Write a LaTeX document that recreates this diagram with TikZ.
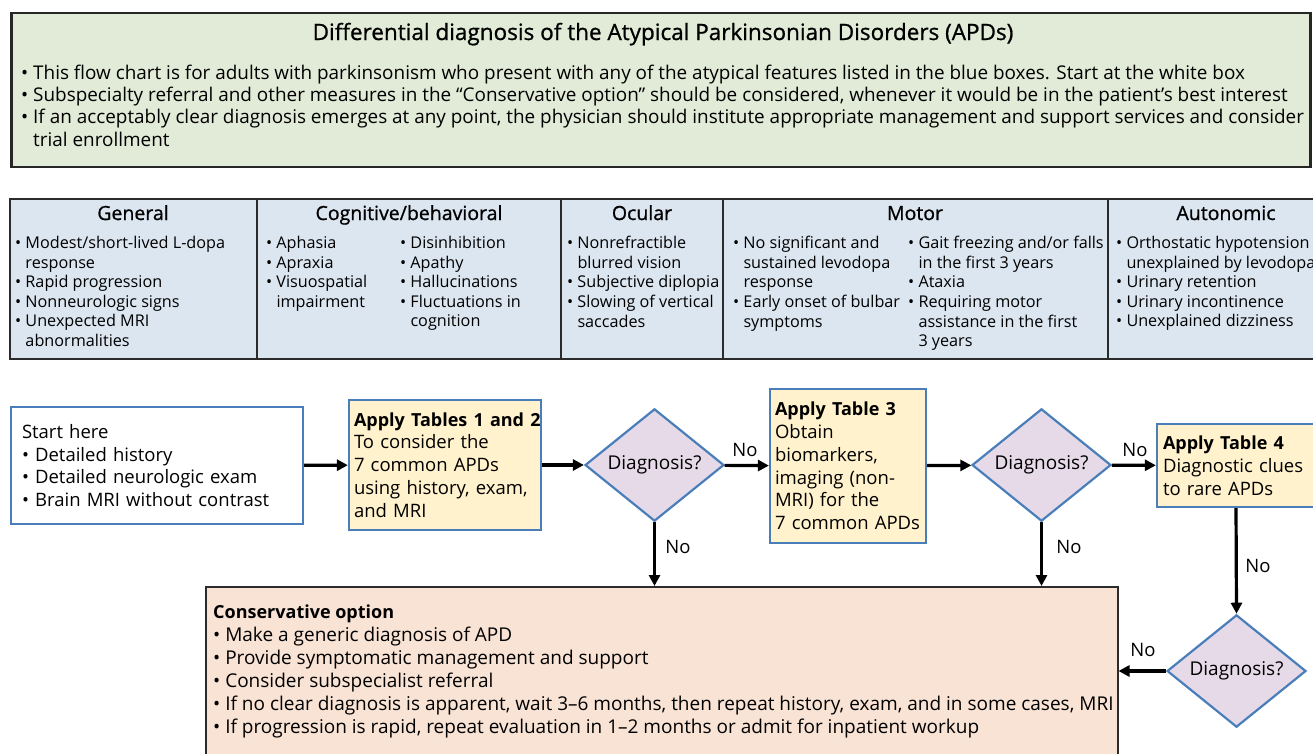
\documentclass[tikz,border=0pt]{standalone}
\usepackage{fontspec}
\setmainfont{Open Sans}
\newfontfamily\semib[FakeBold=0.9]{Open Sans}
\usetikzlibrary{shapes.geometric,arrows.meta}
\definecolor{hdrgreen}{HTML}{E2EAD8}
\definecolor{tblblue}{HTML}{DCE6F0}
\definecolor{ylw}{HTML}{FFF2CC}
\definecolor{lav}{HTML}{E6DAE8}
\definecolor{peach}{HTML}{F8E3D5}
\definecolor{bluebrd}{HTML}{4A7EBB}
\definecolor{darkbrd}{HTML}{2B2B2B}
\newcommand\ind{\hphantom{•\ }}
\newcommand\bhead[1]{\mbox{\fontsize{18}{22.8}\selectfont\bfseries #1}}
\begin{document}
\begin{tikzpicture}[x=1pt,y=-1pt,
  tbhead/.style={anchor=base, inner sep=0pt, font=\semib\fontsize{19.5}{22}\selectfont},
  tbtext/.style={anchor=north west, align=left, inner sep=0pt, font=\fontsize{16.2}{19.6}\selectfont},
  bluebox/.style={draw=bluebrd, line width=2.2pt, align=left, inner ysep=0pt, font=\fontsize{18.5}{22.8}\selectfont},
  dia/.style={diamond, draw=bluebrd, fill=lav, line width=2.2pt, minimum width=139pt, minimum height=104pt, inner sep=0pt, font=\fontsize{19}{22}\selectfont},
  arr/.style={line width=3.2pt, -{Triangle[length=11pt,width=11pt]}},
  lbl/.style={anchor=base, inner sep=0pt, font=\fontsize{18.5}{22}\selectfont}
]
\useasboundingbox (0,0) rectangle (1313,753);
\begin{scope}
\clip (0,0) rectangle (1313,753);
\fill[white] (0,0) rectangle (1313,753);

% ---------- header ----------
\draw[draw=black!85, line width=2.6pt, fill=hdrgreen] (11.5,13) rectangle (1310.5,167);
\node[anchor=base, inner sep=0pt, font=\semib\fontsize{22.5}{26}\selectfont] (title) at (663,40)
  {Differential diagnosis of the Atypical Parkinsonian Disorders (APDs)};
\node[anchor=north west, align=left, inner sep=0pt, font=\fontsize{18.9}{22.3}\selectfont] (intro) at (21,64.5)
  {• This flow chart is for adults with parkinsonism who present with any of the atypical features listed in the blue boxes. Start at the white box\\
   • Subspecialty referral and other measures in the “Conservative option” should be considered, whenever it would be in the patient’s best interest\\
   • If an acceptably clear diagnosis emerges at any point, the physician should institute appropriate management and support services and consider\\
   \ind trial enrollment};

% ---------- table of atypical features ----------
\draw[draw=darkbrd, line width=1.5pt, fill=tblblue] (10,199) rectangle (1330,359);
\foreach \xx in {257,561,723,1108} \draw[darkbrd, line width=1.5pt] (\xx,199) -- (\xx,359);
\node[tbhead] (hgen) at (133,220) {General};
\node[tbhead] (hcog) at (409,220) {Cognitive/behavioral};
\node[tbhead] (hocu) at (642,220) {Ocular};
\node[tbhead] (hmot) at (915,220) {Motor};
\node[tbhead] (haut) at (1226,220) {Autonomic};

\node[tbtext] (cgen) at (15,236)
  {• Modest/short-lived L-dopa\\ \ind response\\ • Rapid progression\\ • Nonneurologic signs\\ • Unexpected MRI\\ \ind abnormalities};
\node[tbtext] (ccoga) at (266,236)
  {• Aphasia\\ • Apraxia\\ • Visuospatial\\ \ind impairment};
\node[tbtext] (ccogb) at (400,236)
  {• Disinhibition\\ • Apathy\\ • Hallucinations\\ • Fluctuations in\\ \ind cognition};
\node[tbtext] (cocu) at (567,236)
  {• Nonrefractible\\ \ind blurred vision\\ • Subjective diplopia\\ • Slowing of vertical\\ \ind saccades};
\node[tbtext] (cmota) at (733,236)
  {• No significant and\\ \ind sustained levodopa\\ \ind response\\ • Early onset of bulbar\\ \ind symptoms};
\node[tbtext] (cmotb) at (908,236)
  {• Gait freezing and/or falls\\ \ind in the first 3 years\\ • Ataxia\\ • Requiring motor\\ \ind assistance in the first\\ \ind 3 years};
\node[tbtext] (caut) at (1116,236)
  {• Orthostatic hypotension\\ \ind unexplained by levodopa\\ • Urinary retention\\ • Urinary incontinence\\ • Unexplained dizziness};

% ---------- flowchart ----------
\node[bluebox, fill=white, inner xsep=11pt, text width=270pt, minimum height=117pt] (start) at (157,465.5)
  {Start here\\ • Detailed history\\ • Detailed neurologic exam\\ • Brain MRI without contrast};
\node[bluebox, fill=ylw, inner xsep=5pt, text width=182pt, minimum height=130pt] (t12) at (445,465)
  {\bhead{Apply Tables 1 and 2}\\ To consider the\\ 7 common APDs\\ \mbox{using history, exam,}\\ and MRI};
\node[dia] (d1) at (654.5,465) {Diagnosis?};
\node[bluebox, fill=ylw, inner xsep=5pt, text width=146pt, minimum height=154pt] (t3) at (848,466)
  {\bhead{Apply Table 3}\\ Obtain\\ biomarkers,\\ imaging (non-\\ MRI) for the\\ \mbox{7 common APDs}};
\node[dia] (d2) at (1041.5,465) {Diagnosis?};
\node[bluebox, fill=ylw, inner xsep=6pt, text width=146pt, minimum height=83pt] (t4) at (1236,465.5)
  {\bhead{Apply Table 4}\\ \mbox{Diagnostic clues}\\ to rare APDs};
\node[dia] (d3) at (1236.5,671) {Diagnosis?};

\node[draw=darkbrd, line width=1.5pt, fill=peach, anchor=north west, minimum width=912pt, minimum height=200pt, inner sep=0pt] (cons) at (205,586) {};
\node[anchor=north west, align=left, inner sep=0pt, font=\fontsize{19}{23}\selectfont] (constext) at (213,605)
  {{\fontsize{18}{23}\selectfont\bfseries Conservative option}\\
   • Make a generic diagnosis of APD\\
   • Provide symptomatic management and support\\
   • Consider subspecialist referral\\
   • If no clear diagnosis is apparent, wait 3–6 months, then repeat history, exam, and in some cases, MRI\\
   • If progression is rapid, repeat evaluation in 1–2 months or admit for inpatient workup};

% connectors
\draw[arr] (start) -- (t12);
\draw[arr] (t12) -- (d1);
\draw[arr] (d1) -- (t3);
\draw[arr] (t3) -- (d2);
\draw[arr] (d2) -- (t4);
\draw[arr] (d1.south) -- (d1.south |- cons.north);
\draw[arr] (d2.south) -- (d2.south |- cons.north);
\draw[arr] (t4.south) -- (d3.north);
\draw[arr] (d3.west) -- (cons.east |- d3.west);

\node[lbl] (n1) at (745,456.5) {No};
\node[lbl] (n2) at (1135,456.5) {No};
\node[lbl] (n3) at (678,553.5) {No};
\node[lbl] (n4) at (1069,553.5) {No};
\node[lbl] (n5) at (1258,572.5) {No};
\node[lbl] (n6) at (1143,656.5) {No};
\end{scope}
\end{tikzpicture}
\end{document}
